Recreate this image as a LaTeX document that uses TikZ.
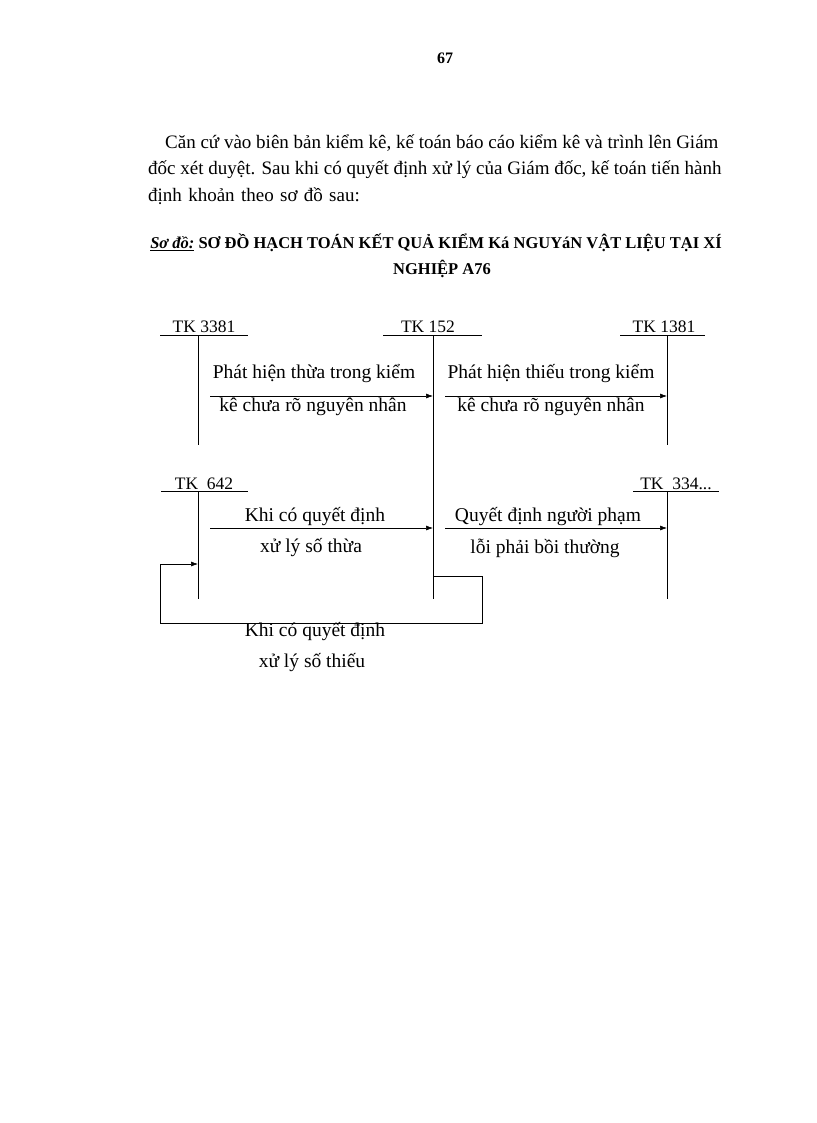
\documentclass[tikz,border=0pt]{standalone}
\usepackage{fontspec}
\setmainfont{Liberation Serif}
\usetikzlibrary{arrows.meta}
\begin{document}
\begin{tikzpicture}[x=1pt,y=-1pt,
  lbl/.style={font=\fontsize{19.5}{22}\selectfont, inner sep=0pt},
  tk/.style={font=\fontsize{17.5}{20}\selectfont, inner sep=0pt, anchor=base},
  par/.style={font=\fontsize{19}{22}\selectfont, text width=590pt, inner sep=0pt, anchor=base west},
  arr/.style={-{Latex[length=7pt,width=5pt]}, line width=0.6pt},
  ln/.style={line width=0.6pt}]
\useasboundingbox (0,0) rectangle (816,1123);
\node[font=\bfseries\fontsize{16}{18}\selectfont] (pg) at (445,58) {67};
\node[par, align=justify] (par1) at (148,149) {\hspace*{17pt}Căn cứ vào biên bản kiểm kê, kế toán báo cáo kiểm kê và trình lên Giám\par\hfill};
\node[par, align=justify] (par2) at (148,175) {đốc xét duyệt. Sau khi có quyết định xử lý của Giám đốc, kế toán tiến hành\par\hfill};
\node[par, align=left] (par3) at (148,202) {định khoản theo sơ đồ sau:};
\node[font=\bfseries\fontsize{16.5}{18}\selectfont, inner sep=0pt] (t1) at (436,243) {\underline{\textit{Sơ đồ:}} SƠ ĐỒ HẠCH TOÁN KẾT QUẢ KIỂM Ká NGUYáN VẬT LIỆU TẠI XÍ};
\node[font=\bfseries\fontsize{16.5}{18}\selectfont, inner sep=0pt] (t2) at (442,269) {NGHIỆP A76};
% T accounts
\node[tk] (a1) at (204,332) {TK 3381};
\draw[ln] (160,335) -- (248,335); \draw[ln] (198,335) -- (198,445);
\node[tk] (a2) at (428,332) {TK 152};
\draw[ln] (383,335) -- (482,335); \draw[ln] (433,335) -- (433,599);
\node[tk] (a3) at (664,332) {TK 1381};
\draw[ln] (620,335) -- (705,335); \draw[ln] (667,335) -- (667,445);
\node[tk] (a4) at (204,489) {TK\ \ 642};
\draw[ln] (161,491) -- (248,491); \draw[ln] (198,491) -- (198,599);
\node[tk] (a5) at (676,489) {TK\ \ 334...};
\draw[ln] (633,491) -- (719,491); \draw[ln] (667,491) -- (667,599);
\coordinate (p1) at (210,396); \coordinate (q1) at (433,396);
\coordinate (p2) at (445,396); \coordinate (q2) at (667,396);
\coordinate (p3) at (210,528); \coordinate (q3) at (433,528);
\coordinate (p4) at (445,528); \coordinate (q4) at (667,528);
\draw[arr] (p1) -- (q1); \draw[arr] (p2) -- (q2);
\draw[arr] (p3) -- (q3); \draw[arr] (p4) -- (q4);
\coordinate (l0) at (433,576); \coordinate (l1) at (198,564);
\draw[arr] (l0) -- (482,576) -- (482,623) -- (160,623) -- (160,564) -- (l1);
\node[lbl] (x1) at (314,374) {Phát hiện thừa trong kiểm};
\node[lbl] (x2) at (313,407) {kê chưa rõ nguyên nhân};
\node[lbl] (x3) at (551,374) {Phát hiện thiếu trong kiểm};
\node[lbl] (x4) at (551,407) {kê chưa rõ nguyên nhân};
\node[lbl] (x5) at (315,517) {Khi có quyết định};
\node[lbl] (x6) at (311,548) {xử lý số thừa};
\node[lbl] (x7) at (548,517) {Quyết định người phạm};
\node[lbl] (x8) at (545,548) {lỗi phải bồi thường};
\node[lbl] (x9) at (315,632) {Khi có quyết định};
\node[lbl] (x10) at (312,663) {xử lý số thiếu};
\end{tikzpicture}
\end{document}
